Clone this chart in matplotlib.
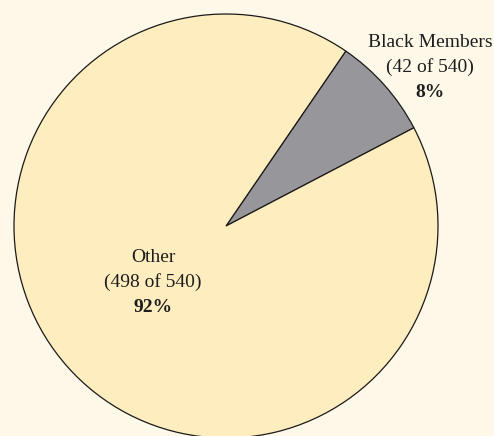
import matplotlib
matplotlib.use("Agg")
import matplotlib.pyplot as plt

categories = ["Black Members", "Other"]
counts = [42, 498]
total = 540
percent_labels = ["8%", "92%"]
colors = ["#97979b", "#feedbe"]

W, H = 494, 436
fig = plt.figure(figsize=(W / 100, H / 100), dpi=100)
fig.patch.set_facecolor("#fef8e8")
ax = fig.add_axes([0, 0, 1, 1])
ax.set_facecolor("#fef8e8")

cx, cy, r = 226, H - 226, 212
ax.pie(counts, colors=colors, startangle=27.6, counterclock=True,
       center=(cx, cy), radius=r,
       wedgeprops=dict(edgecolor="#1a1a1a", linewidth=0.9))
ax.set_xlim(0, W)
ax.set_ylim(0, H)
ax.set_aspect("auto")
ax.axis("off")

font = ["Liberation Serif", "DejaVu Serif"]
fs = 14
tc = "#1e1e1e"
label_pos = [(430, 47), (153, 262)]
for name, n, pct, (x, y) in zip(categories, counts, percent_labels, label_pos):
    ax.text(x, H - y, name, ha="center", va="baseline", fontsize=fs, family=font, color=tc)
    ax.text(x, H - (y + 25), f"({n} of {total})", ha="center", va="baseline", fontsize=fs, family=font, color=tc)
    ax.text(x, H - (y + 50), pct, ha="center", va="baseline", fontsize=fs, family=font, color=tc, fontweight="bold")

fig.savefig("out.png", dpi=100, facecolor=fig.get_facecolor())
